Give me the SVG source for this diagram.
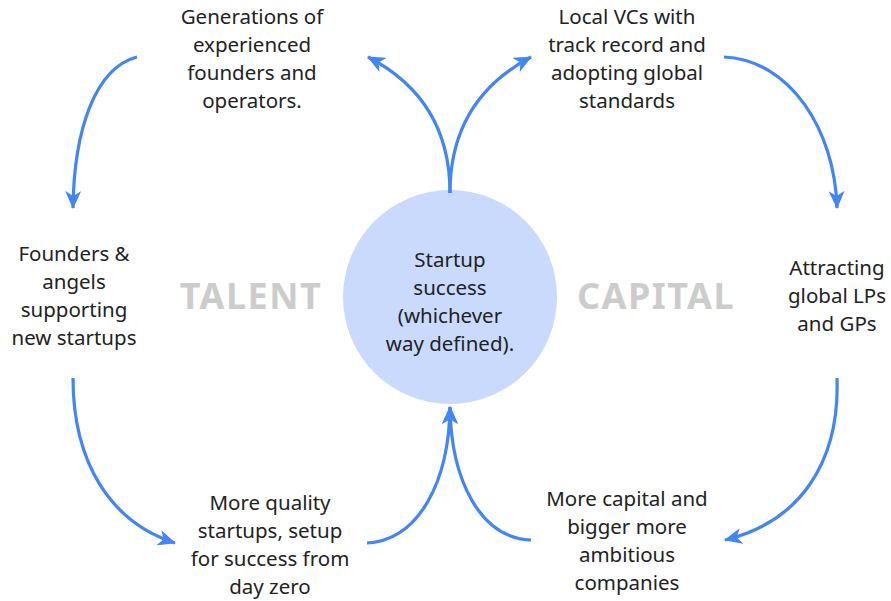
<svg xmlns="http://www.w3.org/2000/svg" width="891" height="601" viewBox="0 0 891 601">
  <style>
    .t { font-family: "Noto Sans", "Open Sans", sans-serif; font-size: 20.5px; fill: #222222; text-anchor: middle; }
    .big { font-family: "Noto Sans", "Open Sans", sans-serif; font-size: 36px; font-weight: bold; fill: #cccccc; text-anchor: middle; letter-spacing: 1.5px; }
    .c { fill: none; stroke: #4285f4; stroke-width: 3.2; stroke-linecap: butt; }
  </style>
  <defs>
    <marker id="ah" markerUnits="userSpaceOnUse" markerWidth="18" markerHeight="16" viewBox="0 0 18 16" refX="17" refY="8" orient="auto">
      <path d="M0,0 L18,8 L0,16 L5,8 z" fill="#4285f4"/>
    </marker>
  </defs>
  <rect width="891" height="601" fill="#ffffff"/>

  <g id="center">
    <circle cx="450" cy="297" r="107" fill="#c9dafc"/>
    <text class="t" x="450" y="267">Startup</text>
    <text class="t" x="450" y="295">success</text>
    <text class="t" x="450" y="323">(whichever</text>
    <text class="t" x="450" y="351">way defined).</text>
  </g>

  <g id="talent-label">
    <text class="big" x="251" y="309">TALENT</text>
  </g>
  <g id="capital-label">
    <text class="big" x="656" y="309">CAPITAL</text>
  </g>

  <g id="founders-operators">
    <text class="t" x="252" y="24">Generations of</text>
    <text class="t" x="252" y="52">experienced</text>
    <text class="t" x="252" y="80">founders and</text>
    <text class="t" x="252" y="108">operators.</text>
  </g>

  <g id="local-vcs">
    <text class="t" x="627" y="24">Local VCs with</text>
    <text class="t" x="627" y="52">track record and</text>
    <text class="t" x="627" y="80">adopting global</text>
    <text class="t" x="627" y="108">standards</text>
  </g>

  <g id="founders-angels">
    <text class="t" x="74" y="261">Founders &amp;</text>
    <text class="t" x="74" y="289">angels</text>
    <text class="t" x="74" y="317">supporting</text>
    <text class="t" x="74" y="345">new startups</text>
  </g>

  <g id="global-lps">
    <text class="t" x="837" y="275">Attracting</text>
    <text class="t" x="837" y="303">global LPs</text>
    <text class="t" x="837" y="331">and GPs</text>
  </g>

  <g id="quality-startups">
    <text class="t" x="270" y="510">More quality</text>
    <text class="t" x="270" y="538">startups, setup</text>
    <text class="t" x="270" y="566">for success from</text>
    <text class="t" x="270" y="594">day zero</text>
  </g>

  <g id="more-capital">
    <text class="t" x="627" y="506">More capital and</text>
    <text class="t" x="627" y="534">bigger more</text>
    <text class="t" x="627" y="562">ambitious</text>
    <text class="t" x="627" y="590">companies</text>
  </g>

  <g id="connectors">
    <path class="c" marker-end="url(#ah)" d="M450,193 C450,128 420,84 368,57"/>
    <path class="c" marker-end="url(#ah)" d="M450,193 C450,128 480,84 531,57"/>
    <path class="c" marker-end="url(#ah)" d="M137,57 C95,68 74,130 73,208"/>
    <path class="c" marker-end="url(#ah)" d="M724,57 C790,60 835,130 837,208"/>
    <path class="c" marker-end="url(#ah)" d="M73,378 C73,462 110,522 175,543"/>
    <path class="c" marker-end="url(#ah)" d="M837,378 C840,462 800,522 725,540"/>
    <path class="c" marker-end="url(#ah)" d="M367,543 C420,540 449,480 450,407"/>
    <path class="c" marker-end="url(#ah)" d="M531,540 C480,538 451,480 450,407"/>
  </g>
</svg>
